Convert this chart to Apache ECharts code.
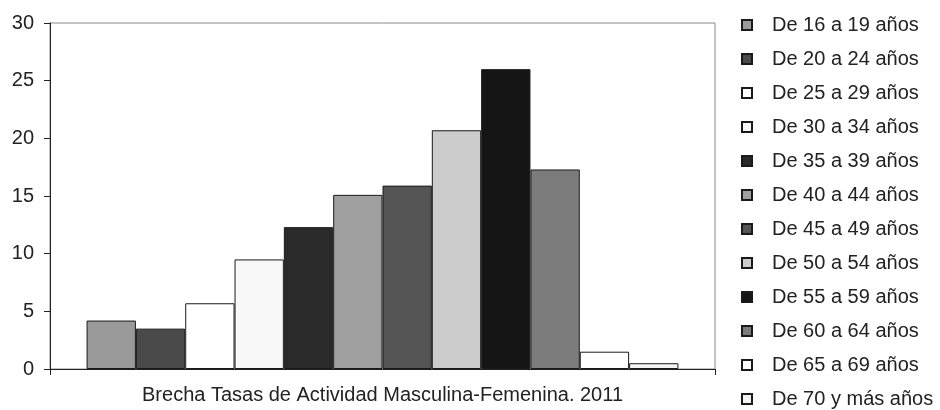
<!DOCTYPE html>
<html>
<head>
<meta charset="utf-8">
<script src="https://cdn.jsdelivr.net/npm/echarts@6/dist/echarts.min.js"></script>
<style>
html,body{margin:0;padding:0;background:#fff;}
#c{width:940px;height:410px;}
</style>
</head>
<body>
<div id="c"></div>
<script>
var categories = ['Brecha Tasas de Actividad Masculina-Femenina. 2011'];
var seriesNames = ['De 16 a 19 años','De 20 a 24 años','De 25 a 29 años','De 30 a 34 años','De 35 a 39 años','De 40 a 44 años','De 45 a 49 años','De 50 a 54 años','De 55 a 59 años','De 60 a 64 años','De 65 a 69 años','De 70 y más años'];
var seriesValues = [4.2, 3.5, 5.7, 9.5, 12.3, 15.1, 15.9, 20.7, 26.0, 17.3, 1.5, 0.5];
var seriesColors = ['#9a9a9a','#4a4a4a','#ffffff','#f8f8f8','#2a2a2a','#a0a0a0','#555555','#cccccc','#151515','#7c7c7c','#ffffff','#f4f4f4'];
var yTicks = {min: 0, max: 30, interval: 5};

var font = "'Liberation Sans', Arial, sans-serif";
var chart = echarts.init(document.getElementById('c'));
var series = seriesNames.map(function (n, i) {
  return {
    name: n,
    type: 'bar',
    data: [seriesValues[i]],
    barGap: '0%',
    barCategoryGap: '11%',
    itemStyle: {color: seriesColors[i], borderColor: '#1a1a1a', borderWidth: 1},
    emphasis: {disabled: true}
  };
});
chart.setOption({
  animation: false,
  backgroundColor: '#ffffff',
  grid: {left: 50, top: 23, right: 225, bottom: 41, show: true, borderColor: '#8a8a8a', borderWidth: 1},
  legend: {
    orient: 'vertical',
    left: 741,
    top: 15,
    padding: 0,
    itemWidth: 10,
    itemHeight: 10,
    itemGap: 14,
    icon: 'rect',
    data: seriesNames,
    textStyle: {fontFamily: font, fontSize: 20, color: '#222', padding: [0, 0, 0, 15], lineHeight: 20},
    selectedMode: false
  },
  xAxis: {
    type: 'category',
    data: categories,
    axisLine: {lineStyle: {color: '#222', width: 1}},
    axisTick: {show: true, length: 6, lineStyle: {color: '#222'}},
    axisLabel: {show: false},
    name: categories[0],
    nameLocation: 'middle',
    nameGap: 16,
    nameTextStyle: {fontFamily: font, fontSize: 20, color: '#222'}
  },
  yAxis: {
    type: 'value',
    min: yTicks.min,
    max: yTicks.max,
    interval: yTicks.interval,
    axisLine: {show: true, lineStyle: {color: '#222', width: 1}},
    axisTick: {show: true, length: 6, lineStyle: {color: '#222'}},
    splitLine: {show: false},
    axisLabel: {fontFamily: font, fontSize: 20, color: '#222', margin: 16}
  },
  series: series
});
</script>
</body>
</html>
